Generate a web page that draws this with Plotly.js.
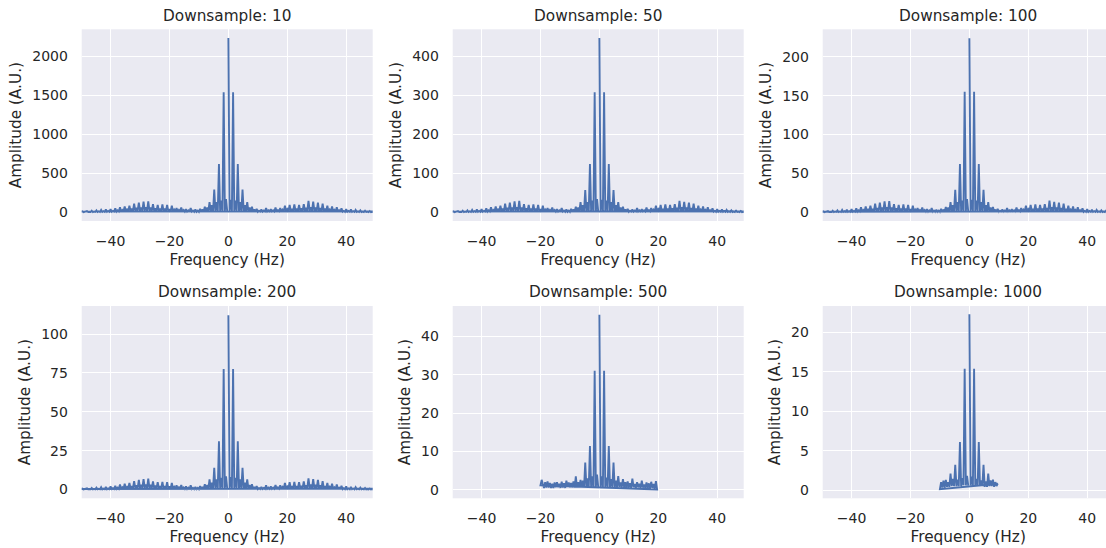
<!DOCTYPE html>
<html>
<head>
<meta charset="utf-8">
<script src="https://cdn.plot.ly/plotly-3.0.1.min.js"></script>
<style>
html, body { margin: 0; padding: 0; overflow: hidden; background: #ffffff; width: 1106px; height: 548px; }
#chart { width: 1114px; height: 548px; }
</style>
</head>
<body>
<div id="chart"></div>
<script>
// ---------------- DATA ----------------
// Subplot titles
const titles = ["Downsample: 10", "Downsample: 50", "Downsample: 100",
                "Downsample: 200", "Downsample: 500", "Downsample: 1000"];

// FFT bin grid (like np.fft.fftfreq): spacing in Hz and Nyquist frequency per panel
const binStepHz = 0.4;
const nyquistHz = [50, 50, 50, 50, 20, 10];

// Amplitudes (A.U.), listed from the lowest frequency bin upward
const ampDs10 = [8,
 12,2,6,2, 15,3,7,3, 20,3,9,4, 25,4,11,4, 30,4,14,5, 35,5,16,6, 40,6,18,8, 50,8,25,10,
 65,10,30,12, 75,12,35,14, 85,14,45,18, 110,18,55,20, 125,20,60,22, 135,22,65,20, 140,20,60,18,
 105,18,50,16, 95,16,45,15, 100,15,45,15, 95,15,40,12, 85,12,35,10, 55,10,30,10, 60,10,28,8,
 40,8,25,8, 55,8,22,6, 35,6,22,5, 45,5,35,8, 70,8,60,10, 130,10,90,12, 290,12,130,12,
 620,12,150,15, 1540,15,170,15,
 2235,15,160,15,
 1540,15,150,12, 620,12,130,12, 290,12,90,10, 130,10,60,8, 70,8,35,6, 45,6,20,8,
 35,8,22,10, 55,10,25,10, 40,10,25,10, 60,10,28,12, 55,12,35,15, 85,15,40,15, 95,15,42,16,
 100,16,45,18, 95,18,48,20, 105,20,55,22, 145,22,65,20, 135,20,60,18, 125,18,55,14, 110,14,45,12,
 85,12,35,10, 75,10,30,8, 65,8,25,6, 50,6,18,5, 40,5,16,5, 35,5,14,4, 30,4,12,3,
 25,3,9,3, 20,3,7,2, 15,2,6,2, 12];

const ampDs50 = [1.6,
 2.4,0.4,1.2,0.4, 3,0.6,1.4,0.6, 4,0.6,1.8,0.8, 5,0.8,2.2,0.8, 6,0.8,2.8,1, 7,1,3.2,1.2, 8,1.2,3.6,1.6, 10,1.6,5,2,
 13,2,6,2.4, 15,2.4,7,2.8, 17,2.8,9,3.6, 22,3.6,11,4, 25,4,12,4.4, 28,4.4,13,4, 29,4,12,3.6,
 21,3.6,10,3.2, 19,3.2,9,3, 20,3,9,3, 19,3,8,2.4, 17,2.4,7,2, 11,2,6,2, 12,2,5.6,1.6,
 8,1.6,5,1.6, 11,1.6,4.4,1.2, 7,1.2,4.4,1, 9,1,7,1.6, 14,1.6,12,2, 26,2,18,2.4, 57,2.4,26,2.4,
 124,2.4,30,3, 308,3,34,3,
 447,3,32,3,
 308,3,30,2.4, 124,2.4,26,2.4, 57,2.4,18,2, 26,2,12,1.6, 14,1.6,7,1.2, 9,1.2,4,1.6,
 7,1.6,4.4,2, 11,2,5,2, 8,2,5,2, 12,2,5.6,2.4, 11,2.4,7,3, 17,3,8,3, 19,3,8.4,3.2,
 20,3.2,9,3.6, 19,3.6,9.6,4, 21,4,11,4.4, 29,4.4,13,4, 27,4,12,3.6, 25,3.6,11,2.8, 22,2.8,9,2.4,
 17,2.4,7,2, 15,2,6,1.6, 13,1.6,5,1.2, 10,1.2,3.6,1, 8,1,3.2,1, 7,1,2.8,0.8, 6,0.8,2.4,0.6,
 5,0.6,1.8,0.6, 4,0.6,1.4,0.4, 3,0.4,1.2,0.4, 2.4];

const ampDs100 = [0.8,
 1.2,0.2,0.6,0.2, 1.5,0.3,0.7,0.3, 2,0.3,0.9,0.4, 2.5,0.4,1.1,0.4, 3,0.4,1.4,0.5, 3.5,0.5,1.6,0.6, 4,0.6,1.8,0.8, 5,0.8,2.5,1,
 6.5,1,3,1.2, 7.5,1.2,3.5,1.4, 8.5,1.4,4.5,1.8, 11,1.8,5.5,2, 12.5,2,6,2.2, 14,2.2,6.5,2, 14.5,2,6,1.8,
 10.5,1.8,5,1.6, 9.5,1.6,4.5,1.5, 10,1.5,4.5,1.5, 9.5,1.5,4,1.2, 8.5,1.2,3.5,1, 5.5,1,3,1, 6,1,2.8,0.8,
 4,0.8,2.5,0.8, 5.5,0.8,2.2,0.6, 3.5,0.6,2.2,0.5, 4.5,0.5,3.5,0.8, 7,0.8,6,1, 13,1,9,1.2, 29,1.2,13,1.2,
 62,1.2,15,1.5, 155,1.5,17,1.5,
 224,1.5,16,1.5,
 155,1.5,15,1.2, 62,1.2,13,1.2, 29,1.2,9,1, 13,1,6,0.8, 7,0.8,3.5,0.6, 4.5,0.6,2,0.8,
 3.5,0.8,2.2,1, 5.5,1,2.5,1, 4,1,2.5,1, 6,1,2.8,1.2, 5.5,1.2,3.5,1.5, 8.5,1.5,4,1.5, 9.5,1.5,4.2,1.6,
 10,1.6,4.5,1.8, 9.5,1.8,4.8,2, 10.5,2,5.5,2.2, 15,2.2,6.5,2, 13.5,2,6,1.8, 12.5,1.8,5.5,1.4, 11,1.4,4.5,1.2,
 8.5,1.2,3.5,1, 7.5,1,3,0.8, 6.5,0.8,2.5,0.6, 5,0.6,1.8,0.5, 4,0.5,1.6,0.5, 3.5,0.5,1.4,0.4, 3,0.4,1.2,0.3,
 2.5,0.3,0.9,0.3, 2,0.3,0.7,0.2, 1.5,0.2,0.6,0.2, 1.2];

const ampDs200 = [0.4,
 0.6,0.1,0.3,0.1, 0.75,0.15,0.35,0.15, 1,0.15,0.45,0.2, 1.25,0.2,0.55,0.2, 1.5,0.2,0.7,0.25, 1.75,0.25,0.8,0.3, 2,0.3,0.9,0.4, 2.5,0.4,1.25,0.5,
 3.25,0.5,1.5,0.6, 3.75,0.6,1.75,0.7, 4.25,0.7,2.25,0.9, 5.5,0.9,2.75,1, 6.25,1,3,1.1, 6.8,1.1,3.25,1, 7,1,3,0.9,
 5.25,0.9,2.5,0.8, 4.75,0.8,2.25,0.75, 5,0.75,2.25,0.75, 4.75,0.75,2,0.6, 4.25,0.6,1.75,0.5, 2.75,0.5,1.5,0.5, 3,0.5,1.4,0.4,
 2,0.4,1.25,0.4, 2.75,0.4,1.1,0.3, 1.75,0.3,1.1,0.25, 2.25,0.25,1.75,0.4, 3.5,0.4,3,0.5, 6.6,0.5,4.5,0.6, 14,0.6,6.5,0.6,
 31,0.6,7.5,0.75, 77.5,0.75,8.5,0.75,
 112,0.75,8,0.75,
 77.5,0.75,7.5,0.6, 31,0.6,6.5,0.6, 14,0.6,4.5,0.5, 6.6,0.5,3,0.4, 3.5,0.4,1.75,0.3, 2.25,0.3,1,0.4,
 1.75,0.4,1.1,0.5, 2.75,0.5,1.25,0.5, 2,0.5,1.25,0.5, 3,0.5,1.4,0.6, 2.75,0.6,1.75,0.75, 4.25,0.75,2,0.75, 4.75,0.75,2.1,0.8,
 5,0.8,2.25,0.9, 4.75,0.9,2.4,1, 5.25,1,2.75,1.1, 7.2,1.1,3.25,1, 6.75,1,3,0.9, 6.25,0.9,2.75,0.7, 5.5,0.7,2.25,0.6,
 4.25,0.6,1.75,0.5, 3.75,0.5,1.5,0.4, 3.25,0.4,1.25,0.3, 2.5,0.3,0.9,0.25, 2,0.25,0.8,0.25, 1.75,0.25,0.7,0.2, 1.5,0.2,0.6,0.15,
 1.25,0.15,0.45,0.15, 1,0.15,0.35,0.1, 0.75,0.1,0.3,0.1, 0.6];

const ampDs500 = [1.2, 2.6,
 1.5,0.5,2.0,0.6, 2.2,0.6,1.8,0.5, 1.6,0.5,1.9,0.7, 2.0,0.7,1.6,0.5, 2.1,0.6,1.7,0.5, 2.4,0.8,1.9,0.6,
 1.8,0.6,2.2,0.6, 3.5,0.6,2.0,0.6, 2.6,0.6,2.4,0.6, 7.1,0.6,3.0,0.7, 11.4,0.7,3.5,0.7, 31,0.7,4.0,0.8,
 45.6,0.8,3.5,0.7,
 31,0.7,3.2,0.7, 11.4,0.7,2.8,0.6, 7.1,0.6,2.4,0.6, 3.6,0.8,1.9,0.7, 2.8,0.7,2.0,0.6, 2.2,0.6,1.7,0.5,
 2.9,0.7,1.5,0.5, 2.0,0.6,1.6,0.4, 2.4,0.6,1.4,0.4, 1.9,0.5,1.7,0.3, 2.1,0.5,1.5,0.3,
 2.3,0.1];

const ampDs1000 = [0.1,
 1.0,0.3,1.2,0.3, 1.3,0.4,1.0,0.4, 2.1,0.5,1.4,0.5, 3.2,0.5,1.3,0.5, 6.1,0.5,1.5,0.6, 15.4,0.6,1.8,0.6,
 22.3,0.6,1.7,0.6,
 15.4,0.6,1.4,0.5, 6.1,0.5,1.2,0.5, 3.2,0.4,1.1,0.4, 2.1,0.5,1.2,0.5, 1.3,0.4,1.0,0.5,
 0.8];

const amplitudes = [ampDs10, ampDs50, ampDs100, ampDs200, ampDs500, ampDs1000];

// Axis tick values
const xTicks = [-40, -20, 0, 20, 40];
const yTicks = [
  [0, 500, 1000, 1500, 2000],
  [0, 100, 200, 300, 400],
  [0, 50, 100, 150, 200],
  [0, 25, 50, 75, 100],
  [0, 10, 20, 30, 40],
  [0, 5, 10, 15, 20]
];

// ---------------- LAYOUT / STYLE ----------------
const W = 1114, H = 548;
const colPx = [[81.7, 372.7], [452.7, 743.7], [822.7, 1113.7]];
const rowPx = [[29.3, 221.0], [306.0, 498.3]];
const yRanges = [[-112, 2347], [-22.4, 469.5], [-11.2, 235.5], [-5.6, 118], [-2.2, 47.9], [-1.05, 23.35]];
const xRange = [-49.8, 49.0];
const lineColor = '#4C72B0';
const textColor = '#262626';
const fontFam = 'DejaVu Sans, Liberation Sans, sans-serif';

const traces = [];
const layout = {
  width: W, height: H,
  margin: {l: 0, r: 0, t: 0, b: 0},
  paper_bgcolor: '#ffffff',
  plot_bgcolor: '#EAEAF2',
  showlegend: false,
  font: {family: fontFam, color: textColor},
  annotations: []
};

for (let p = 0; p < 6; p++) {
  const amps = amplitudes[p];
  // frequency of each bin, natural order from -Nyquist upward
  const freqs = amps.map((_, i) => +(-nyquistHz[p] + i * binStepHz).toFixed(4));
  const i0 = freqs.indexOf(0);
  // unshifted FFT order: 0 .. +max, then -Nyquist .. -step
  const x = freqs.slice(i0).concat(freqs.slice(0, i0));
  const y = amps.slice(i0).concat(amps.slice(0, i0));
  const n = p + 1;
  const sfx = n === 1 ? '' : String(n);
  traces.push({
    type: 'scatter', mode: 'lines', x: x, y: y,
    xaxis: 'x' + sfx, yaxis: 'y' + sfx,
    line: {color: lineColor, width: 1.9},
    hoverinfo: 'x+y'
  });
  const col = p % 3, row = Math.floor(p / 3);
  const xd = [colPx[col][0] / W, Math.min(1, colPx[col][1] / W)];
  const yd = [1 - rowPx[row][1] / H, 1 - rowPx[row][0] / H];
  layout['xaxis' + sfx] = {
    domain: xd, anchor: 'y' + sfx, range: xRange,
    tickmode: 'array', tickvals: xTicks,
    showgrid: true, gridcolor: '#ffffff', gridwidth: 1.3,
    zeroline: false, showline: false,
    ticks: 'outside', ticklen: 7, tickcolor: 'rgba(0,0,0,0)',
    tickfont: {size: 14, color: textColor, family: fontFam},
    title: {text: 'Frequency (Hz)', font: {size: 15.3, color: textColor, family: fontFam}, standoff: 6},
    fixedrange: true
  };
  layout['yaxis' + sfx] = {
    domain: yd, anchor: 'x' + sfx, range: yRanges[p],
    tickmode: 'array', tickvals: yTicks[p],
    showgrid: true, gridcolor: '#ffffff', gridwidth: 1.3,
    zeroline: false, showline: false,
    ticks: 'outside', ticklen: 10, tickcolor: 'rgba(0,0,0,0)',
    tickfont: {size: 14, color: textColor, family: fontFam},
    title: {text: 'Amplitude (A.U.)', font: {size: 15.3, color: textColor, family: fontFam}, standoff: 6},
    fixedrange: true
  };
  layout.annotations.push({
    text: titles[p], showarrow: false,
    xref: 'paper', yref: 'paper',
    x: (colPx[col][0] + colPx[col][1]) / 2 / W,
    y: 1 - (rowPx[row][0] - 13.5) / H,
    xanchor: 'center', yanchor: 'middle',
    font: {size: 15.3, color: textColor, family: fontFam}
  });
}

Plotly.newPlot('chart', traces, layout, {displayModeBar: false, staticPlot: false, responsive: false});
</script>
</body>
</html>
